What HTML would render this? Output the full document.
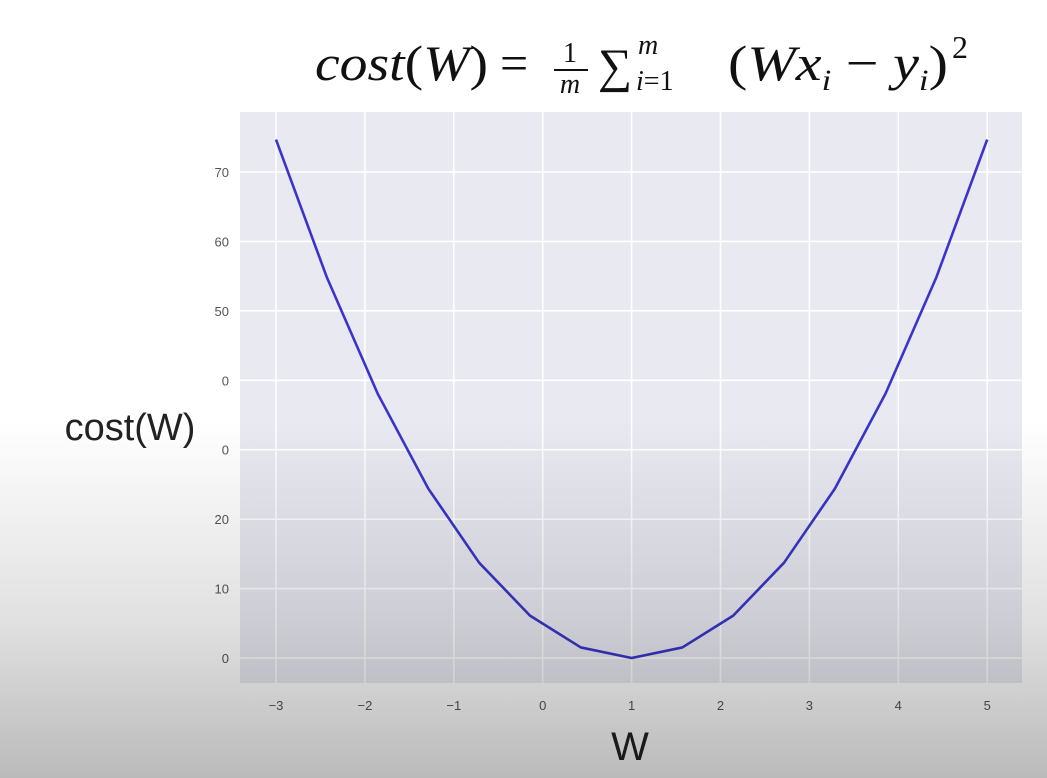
<!DOCTYPE html>
<html><head><meta charset="utf-8"><style>
html,body{margin:0;padding:0;background:#fff;}
svg{display:block;}
</style></head><body>
<svg width="1047" height="778" viewBox="0 0 1047 778" xmlns="http://www.w3.org/2000/svg">
<defs>
<linearGradient id="shade" x1="0" y1="0" x2="0" y2="778" gradientUnits="userSpaceOnUse">
<stop offset="0" stop-color="#000" stop-opacity="0"/>
<stop offset="0.54" stop-color="#000" stop-opacity="0"/>
<stop offset="0.8" stop-color="#000" stop-opacity="0.12"/>
<stop offset="1" stop-color="#000" stop-opacity="0.27"/>
</linearGradient>
</defs>
<rect x="240" y="112" width="782" height="571" fill="#e8e9f1"/>
<g id="grid"></g>
<g id="ticks"></g>
<polyline id="curve" fill="none" stroke="#3a35c8" stroke-width="2.6" stroke-linejoin="round"/>
<text x="130" y="440" font-family="Liberation Sans, sans-serif" font-size="38" fill="#222" text-anchor="middle">cost(W)</text>
<text x="630" y="760" font-family="Liberation Sans, sans-serif" font-size="40" fill="#222" text-anchor="middle">W</text>
<g font-family="Liberation Serif, serif" fill="#111">
<text x="315" y="80" font-size="50" textLength="173" lengthAdjust="spacingAndGlyphs"><tspan font-style="italic">cost</tspan>(<tspan font-style="italic">W</tspan>)</text>
<text x="500" y="80" font-size="50">=</text>
<text x="570" y="62" font-size="28" text-anchor="middle">1</text>
<line x1="554" x2="588" y1="70" y2="70" stroke="#111" stroke-width="2"/>
<text x="570" y="93" font-size="28" font-style="italic" text-anchor="middle">m</text>
<text x="598" y="82" font-size="48">∑</text>
<text x="638" y="54" font-size="28" font-style="italic">m</text>
<text x="636" y="90" font-size="28"><tspan font-style="italic">i</tspan>=1</text>
<text x="728" y="80" font-size="50" textLength="220" lengthAdjust="spacingAndGlyphs">(<tspan font-style="italic">Wx</tspan><tspan font-size="30" font-style="italic" dy="10">i</tspan><tspan dy="-10"> − </tspan><tspan font-style="italic">y</tspan><tspan font-size="30" font-style="italic" dy="10">i</tspan><tspan dy="-10">)</tspan></text>
<text x="952" y="58" font-size="32">2</text>
</g>
<rect x="0" y="0" width="1047" height="778" fill="url(#shade)"/>
</svg>
<script>
const categories = [-3,-2.429,-1.857,-1.286,-0.714,-0.143,0.429,1,1.571,2.143,2.714,3.286,3.857,4.429,5];
const costValues = [74.67,54.86,38.10,24.38,13.71,6.10,1.52,0,1.52,6.10,13.71,24.38,38.10,54.86,74.67];
const xTicks = [-3,-2,-1,0,1,2,3,4,5];
const xTickLabels = ["−3","−2","−1","0","1","2","3","4","5"];
const yTicks = [0,10,20,30,40,50,60,70];
const yTickLabels = ["0","10","20","0","0","50","60","70"];

const NS="http://www.w3.org/2000/svg";
const xs = v => 276 + (v + 3) * 88.9;
const ys = v => 658 - v * 6.943;
const grid=document.getElementById('grid'), ticks=document.getElementById('ticks');
xTicks.forEach((t,i)=>{
  const l=document.createElementNS(NS,'line');
  l.setAttribute('x1',xs(t));l.setAttribute('x2',xs(t));l.setAttribute('y1',112);l.setAttribute('y2',683);
  l.setAttribute('stroke','#fff');l.setAttribute('stroke-width','1.6');
  
  
  grid.appendChild(l);
  const tx=document.createElementNS(NS,'text');
  tx.setAttribute('x',xs(t));tx.setAttribute('y',710);tx.setAttribute('text-anchor','middle');
  tx.setAttribute('font-family','Liberation Sans, sans-serif');tx.setAttribute('font-size','13');tx.setAttribute('fill','#555');
  tx.textContent=xTickLabels[i];
  
  
  ticks.appendChild(tx);
});
yTicks.forEach((t,i)=>{
  const l=document.createElementNS(NS,'line');
  l.setAttribute('x1',240);l.setAttribute('x2',1022);l.setAttribute('y1',ys(t));l.setAttribute('y2',ys(t));
  l.setAttribute('stroke','#fff');l.setAttribute('stroke-width','1.6');
  
  
  grid.appendChild(l);
  const tx=document.createElementNS(NS,'text');
  tx.setAttribute('x',229);tx.setAttribute('y',ys(t)+5);tx.setAttribute('text-anchor','end');
  tx.setAttribute('font-family','Liberation Sans, sans-serif');tx.setAttribute('font-size','13');tx.setAttribute('fill','#555');
  tx.textContent=yTickLabels[i];
  
  
  ticks.appendChild(tx);
});
document.getElementById('curve').setAttribute('points', categories.map((c,i)=>xs(c)+','+ys(costValues[i])).join(' '));
</script>
</body></html>
